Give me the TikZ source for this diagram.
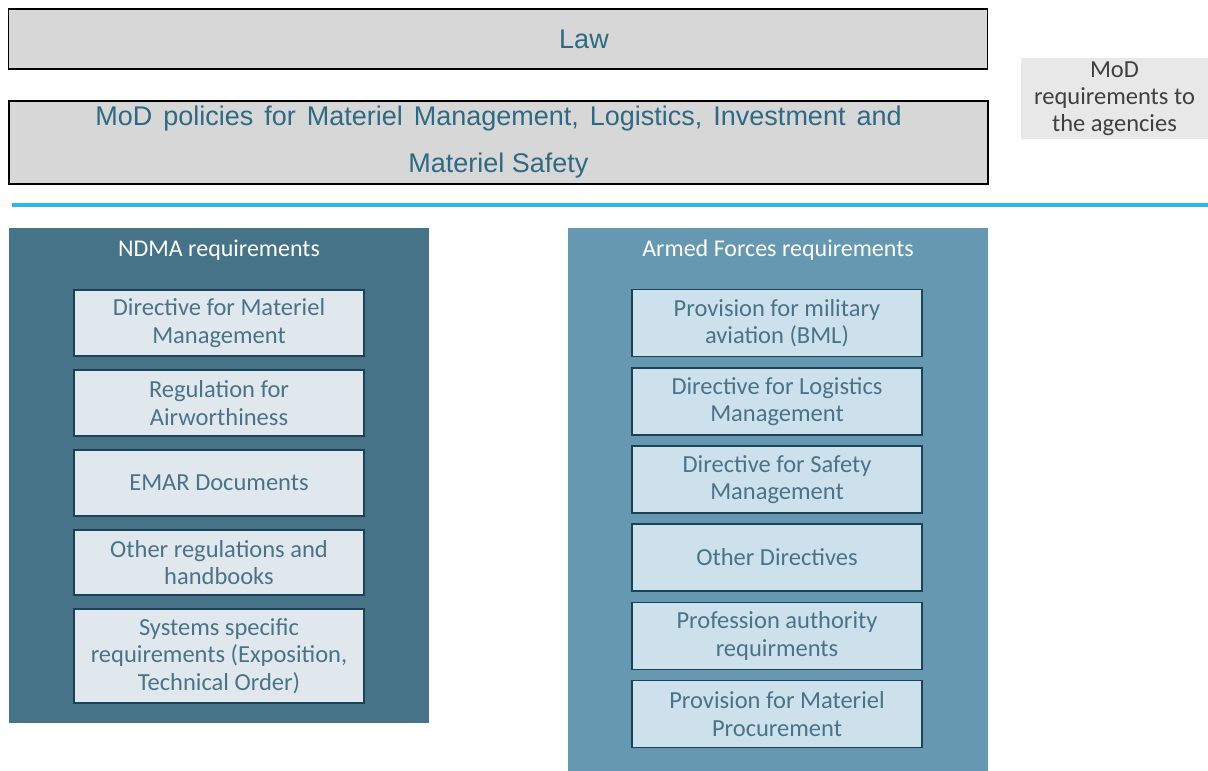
\documentclass[tikz,border=0pt]{standalone}
\usepackage{fontspec}
\setmainfont{Liberation Sans}
\newfontfamily\calfont{Carlito}
\usepackage{xcolor}
\usepackage{tikz}

\definecolor{lawgray}{HTML}{D7D7D7}
\definecolor{notegray}{HTML}{E8E8E8}
\definecolor{policytext}{HTML}{2F6983}
\definecolor{sepblue}{HTML}{2BB7F2}
\definecolor{ndmafill}{HTML}{477389}
\definecolor{armfill}{HTML}{6699B1}
\definecolor{ndmabox}{HTML}{E0E8EE}
\definecolor{armbox}{HTML}{CDE1EC}
\definecolor{boxline}{HTML}{1B4358}
\definecolor{boxtext}{HTML}{4A7389}

\tikzset{
  topbox/.style={draw=black, line width=1.5pt, fill=lawgray, minimum width=979pt, text=policytext, align=center, font=\fontsize{27}{47}\selectfont},
  panel/.style={fill=#1, minimum width=420pt, anchor=north west},
  paneltitle/.style={text=white, font=\calfont\fontsize{24}{28}\selectfont},
  reqbox/.style={draw=boxline, line width=1.5pt, fill=#1, minimum width=290pt, minimum height=66pt, text=boxtext, align=center, font=\calfont\fontsize{24.5}{27.5}\selectfont}
}

\begin{document}
\begin{tikzpicture}[x=1pt,y=-1pt]
		\tikzstyle{every node}+=[inner sep=0pt]
		\useasboundingbox (0,0) rectangle (1208,771);
		% top level
		\node [topbox, minimum height=60pt, font=\fontsize{27}{30}\selectfont] (law) at (498,39) {\hspace*{172pt}Law};
		\node [topbox, minimum height=83pt] (policy) at (498.5,142.5) {\spaceskip=11pt \raisebox{-3pt}{MoD policies for Materiel Management, Logistics, Investment and}\\\raisebox{-3pt}{Materiel Safety}};
		\node [fill=notegray, minimum width=187pt, minimum height=81pt, text=black!75, align=center, font=\calfont\fontsize{24.5}{27}\selectfont] (note) at (1114.5,98.5) {\raisebox{-3pt}{MoD}\\\raisebox{-3pt}{requirements to}\\\raisebox{-3pt}{the agencies}};
		\draw [sepblue, line width=4pt] (12,205) -- (1208,205);
		% NDMA
		\node [panel=ndmafill, minimum height=495pt] (ndma) at (9,228) {};
		\node [paneltitle] (ndmatitle) at (219,250) {NDMA requirements};
		\node [reqbox=ndmabox] (n1) at (219,323) {Directive for Materiel\\Management};
		\node [reqbox=ndmabox] (n2) at (219,403) {Regulation for\\Airworthiness};
		\node [reqbox=ndmabox] (n3) at (219,483) {EMAR Documents};
		\node [reqbox=ndmabox, minimum height=65pt] (n4) at (219,562.5) {Other regulations and\\handbooks};
		\node [reqbox=ndmabox, minimum height=94pt] (n5) at (219,656) {Systems specific\\requirements (Exposition,\\Technical Order)};
		% Armed Forces
		\node [panel=armfill, minimum height=543pt] (armed) at (568,228) {};
		\node [paneltitle] (armtitle) at (778,250) {Armed Forces requirements};
		\node [reqbox=armbox, minimum height=67pt] (a1) at (777,323) {Provision for military\\aviation (BML)};
		\node [reqbox=armbox, minimum height=67pt] (a2) at (777,401.5) {Directive for Logistics\\Management};
		\node [reqbox=armbox, minimum height=67pt] (a3) at (777,479.5) {Directive for Safety\\Management};
		\node [reqbox=armbox, minimum height=67pt] (a4) at (777,557.5) {Other Directives};
		\node [reqbox=armbox, minimum height=67pt] (a5) at (777,636) {Profession authority\\requirments};
		\node [reqbox=armbox, minimum height=67pt] (a6) at (777,714) {Provision for Materiel\\Procurement};
		\end{tikzpicture}
\end{document}
